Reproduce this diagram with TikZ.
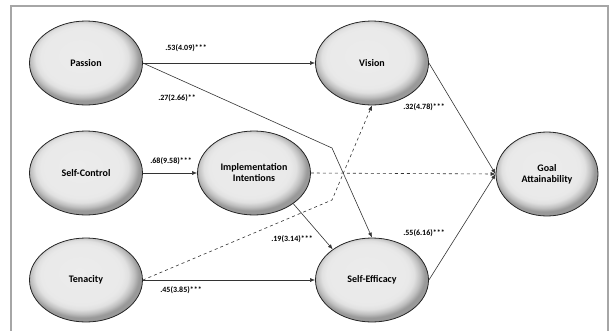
\documentclass[tikz,border=0pt]{standalone}
\usepackage{fontspec}
\setmainfont{Carlito}
\usetikzlibrary{shapes.geometric,arrows.meta}
\pgfdeclareradialshading{bevel}{\pgfpoint{-3bp}{5bp}}{%
  color(0bp)=(gray!15); color(18bp)=(gray!17); color(20.5bp)=(gray!24);
  color(23bp)=(gray!50); color(25bp)=(gray!80); color(50bp)=(gray!80)}
\tikzset{
  lat/.style={ellipse, draw=black!85, line width=0.8pt, shading=bevel,
    minimum width=113pt, minimum height=84pt, inner sep=0pt, align=center,
    font=\fontsize{10}{11}\selectfont\bfseries},
  path/.style={draw=black!80, line width=0.6pt},
  arr/.style={-{Latex[length=5pt,width=4pt]}},
  lbl/.style={font=\fontsize{8}{9}\selectfont\bfseries, inner sep=0pt},
  frame/.style={draw=gray!70, line width=1.6pt}
}
\begin{document}
\begin{tikzpicture}[x=1pt,y=-1pt]
\useasboundingbox (0,0) rectangle (611,330);
\draw[frame] (11,331) -- (11,6) -- (608,6) -- (608,331);
\node[lat] (P) at (86,63) {Passion};
\node[lat] (V) at (372,63) {Vision};
\node[lat] (SC) at (86,173) {Self-Control};
\node[lat] (I) at (254,173) {Implementation\\Intentions};
\node[lat] (T) at (86,280) {Tenacity};
\node[lat] (SE) at (372,280) {Self-Efficacy};
\node[lat, minimum width=102pt] (G) at (547,174) {Goal\\Attainability};
\coordinate (b1) at (332,148);
\coordinate (b2) at (332,200);
\draw[path,arr] (P.east) -- (V.west);
\draw[path,arr] (P.east) -- (b1) -- (SE.north);
\draw[path,arr] (SC.east) -- (I.west);
\draw[path,arr,dashed] (I.east) -- (G.west);
\draw[path,arr] (I.-38) -- (SE.142);
\draw[path,arr,dashed] (T.east) -- (b2) -- (V.south);
\draw[path,arr] (T.east) -- (SE.west);
\draw[path,arr] (V.east) -- (G.west);
\draw[path,arr] (SE.east) -- (G.west);
\node[lbl] (l1) at (186,48) {.53(4.09)***};
\node[lbl] (l2) at (177,98) {.27(2.66)**};
\node[lbl] (l3) at (171,161) {.68(9.58)***};
\node[lbl] (l4) at (424,107) {.32(4.78)***};
\node[lbl] (l5) at (292,239) {.19(3.14)***};
\node[lbl] (l6) at (424,233) {.55(6.16)***};
\node[lbl] (l7) at (181,290) {.45(3.85)***};
\end{tikzpicture}
\end{document}
